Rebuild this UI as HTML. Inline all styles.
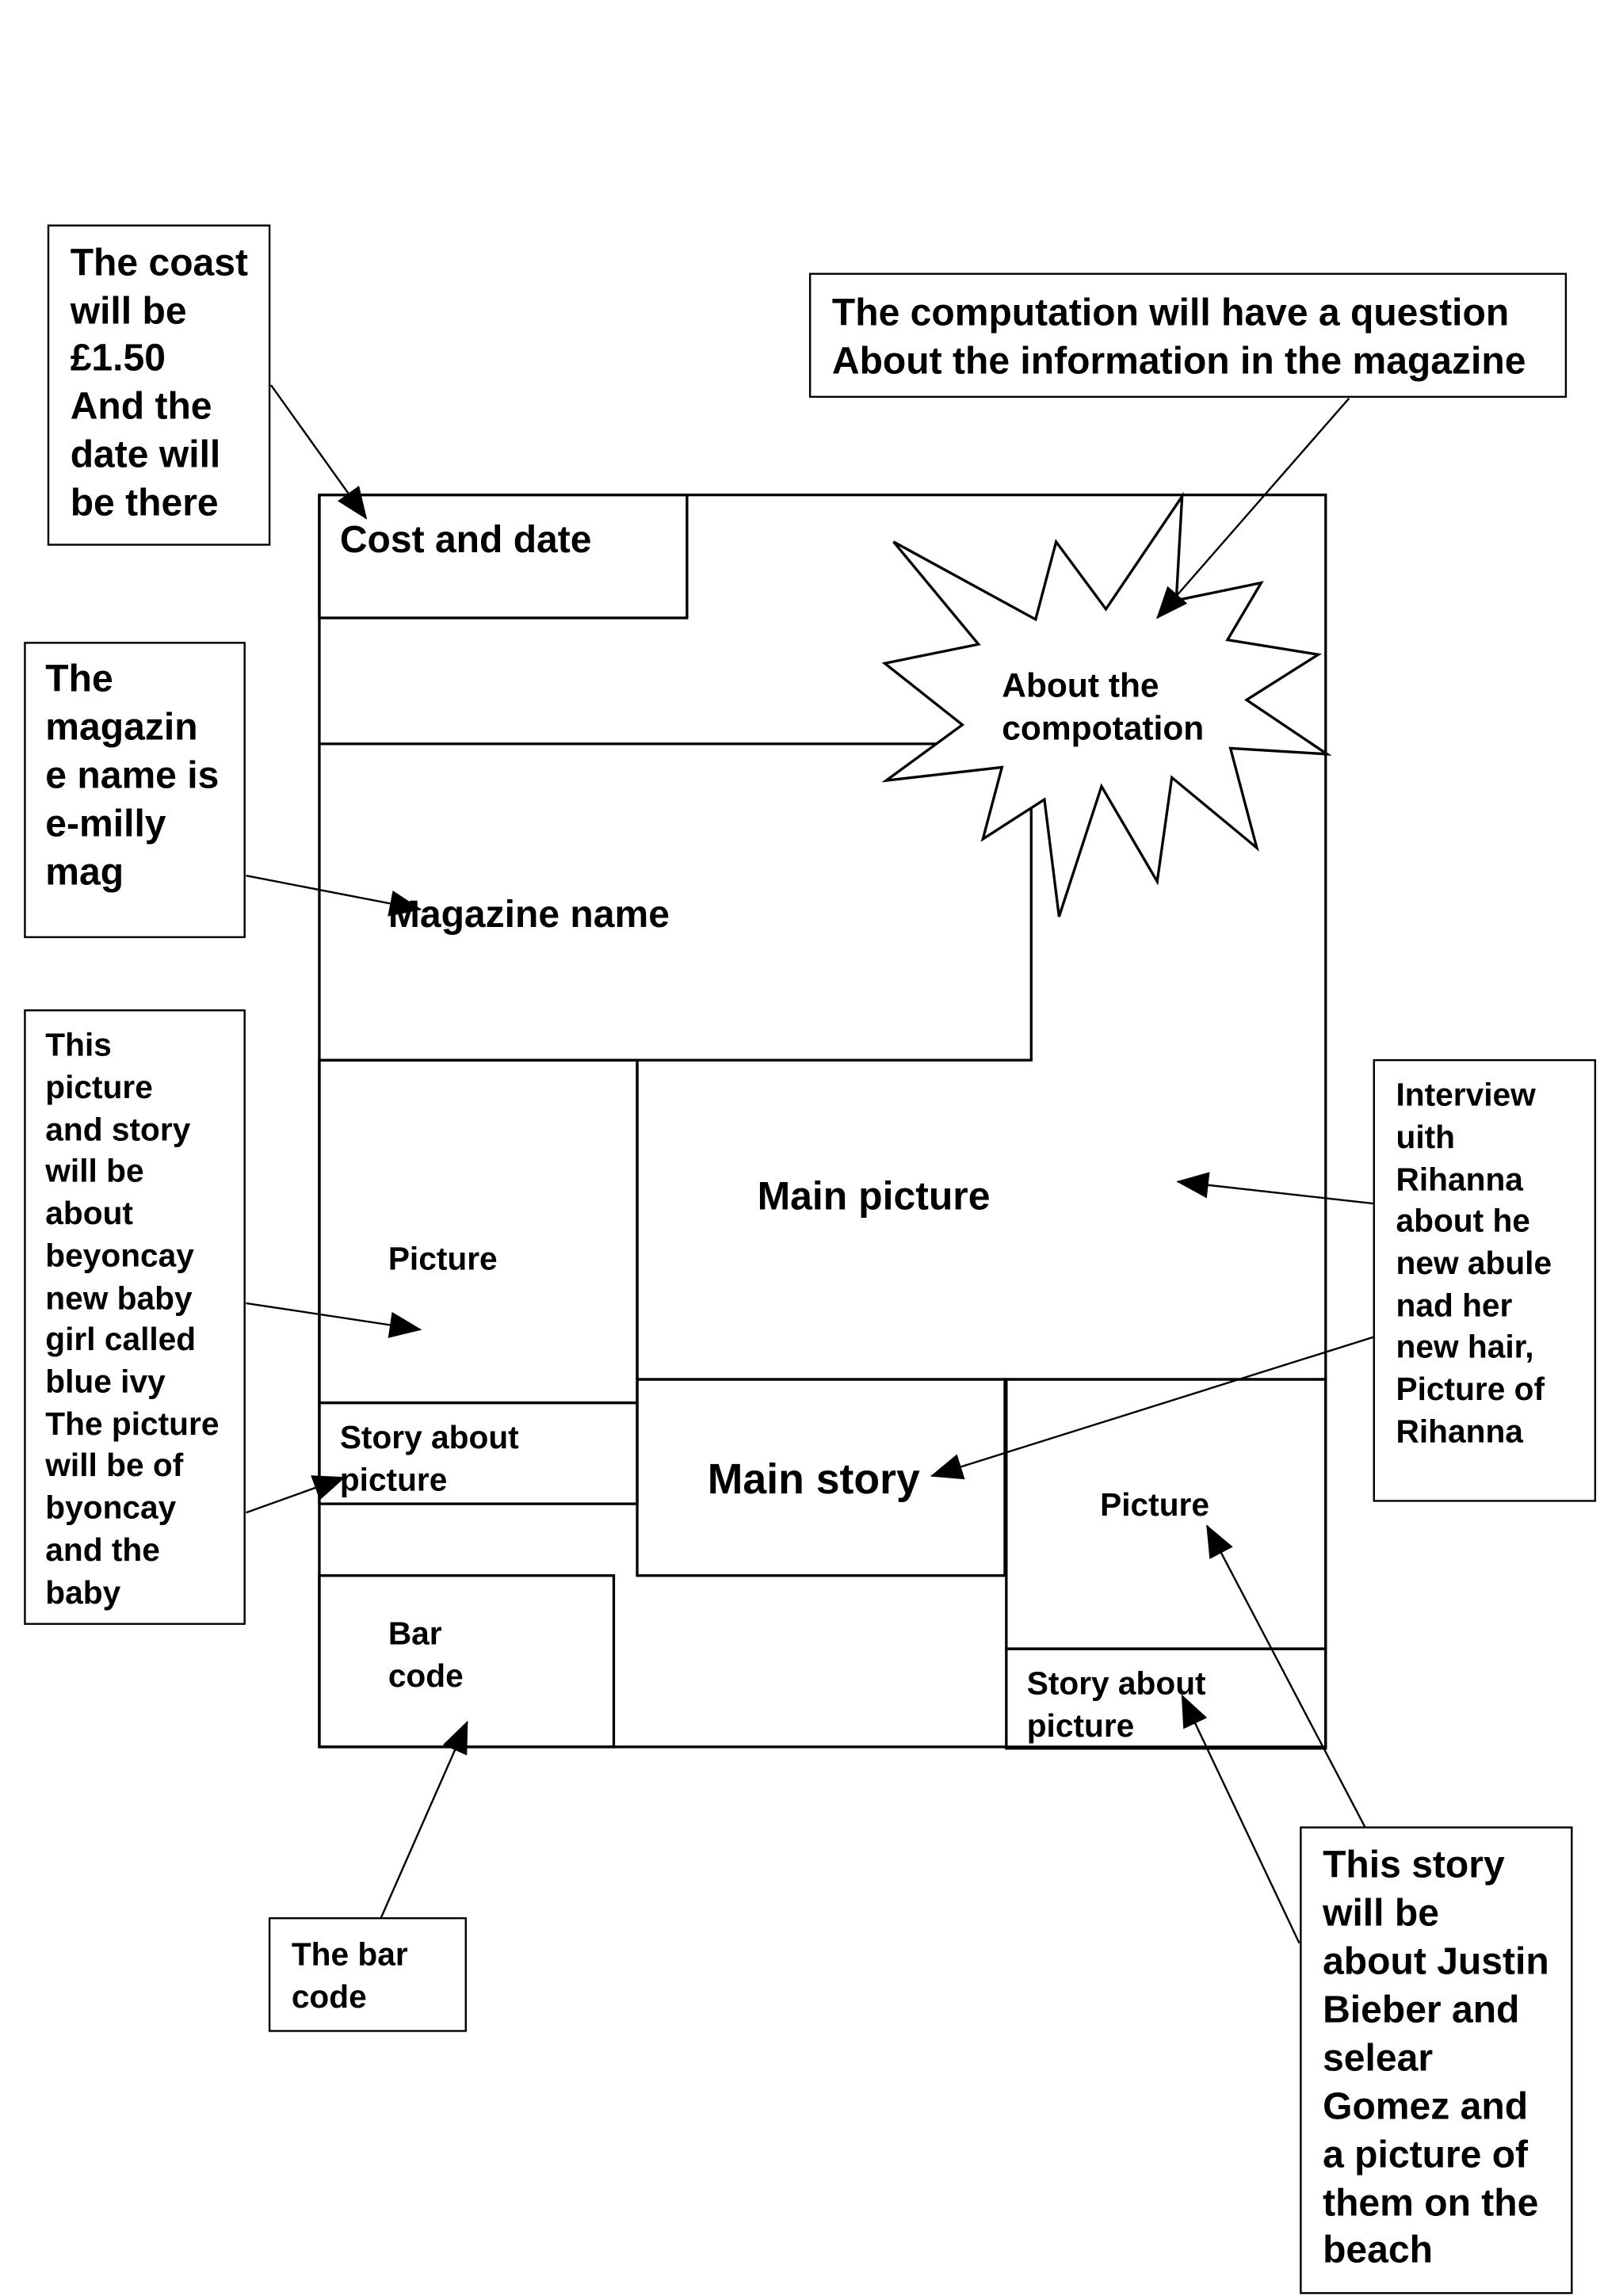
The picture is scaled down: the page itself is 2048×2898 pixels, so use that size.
<!DOCTYPE html>
<html><head><meta charset="utf-8"><style>
html,body{margin:0;padding:0;background:#fff;}
svg{display:block;}
text{font-family:"Liberation Sans",sans-serif;fill:#000;font-weight:bold;}
</style></head><body>
<svg width="2048" height="2898" viewBox="0 0 1108 1568" preserveAspectRatio="none" xmlns="http://www.w3.org/2000/svg">
<defs>
<marker id="b" markerWidth="22" markerHeight="18" refX="21" refY="9" orient="auto" markerUnits="userSpaceOnUse" viewBox="0 0 22 18"><path d="M0,0 L22,9 L0,18 z" fill="#000"/></marker></defs>
<g fill="none" stroke="#000" stroke-width="1.3">
<rect x="33" y="154" width="151" height="218"/>
<rect x="553" y="187" width="516" height="84"/>
<rect x="17" y="439" width="150" height="201"/>
<rect x="17" y="690" width="150" height="419"/>
<rect x="938" y="724" width="151" height="301"/>
<rect x="184" y="1310" width="134" height="77"/>
<rect x="888" y="1248" width="185" height="318"/>
</g>
<g fill="none" stroke="#000" stroke-width="1.8">
<rect x="218" y="338" width="687" height="855"/>
<rect x="218" y="338" width="251" height="84"/>
<line x1="218" y1="508" x2="640" y2="508"/>
<polyline points="704,552 704,724 218,724"/>
<rect x="218" y="724" width="217" height="234"/>
<rect x="218" y="958" width="217" height="69"/>
<rect x="435" y="942" width="251" height="134"/>
<line x1="435" y1="726" x2="435" y2="942"/>
<line x1="435" y1="942" x2="905" y2="942"/>
<rect x="687" y="942" width="218" height="184"/>
<rect x="687" y="1126" width="218" height="68"/>
<rect x="218" y="1076" width="201" height="117"/>
<polygon fill="#fff" points="610,370 707,423 721,370 755,416 807,339 803,410 861,398 838,437 900,447 851,478 906,515 840,511 858,579 800,531 790,602 752,537 723,626 713,546 671,573 684,524 605,533 657,495 604,453 668,440"/>
</g>
<g stroke="#000" stroke-width="1.3" fill="none">
<line x1="185" y1="263" x2="250" y2="354" marker-end="url(#b)"/>
<line x1="921" y1="272" x2="790" y2="422" marker-end="url(#b)"/>
<line x1="168" y1="598" x2="287" y2="621" marker-end="url(#b)"/>
<line x1="168" y1="890" x2="287" y2="908" marker-end="url(#b)"/>
<line x1="168" y1="1033" x2="235" y2="1009" marker-end="url(#b)"/>
<line x1="938" y1="822" x2="804" y2="807" marker-end="url(#b)"/>
<line x1="938" y1="913" x2="636" y2="1008" marker-end="url(#b)"/>
<line x1="932" y1="1248" x2="824" y2="1042" marker-end="url(#b)"/>
<line x1="887" y1="1327" x2="807" y2="1158" marker-end="url(#b)"/>
<line x1="260" y1="1310" x2="319" y2="1176" marker-end="url(#b)"/>
</g>
<g font-size="26">
<text x="48" y="188">The coast</text><text x="48" y="221">will be</text><text x="48" y="253">£1.50</text><text x="48" y="286"> And the</text><text x="48" y="319">date will</text><text x="48" y="352">be there</text>
<text x="568" y="222">The computation will have a question</text><text x="568" y="255">About the information in the magazine</text>
<text x="232" y="377">Cost and date</text>
<text x="31" y="472">The</text><text x="31" y="505">magazin</text><text x="31" y="538">e name is</text><text x="31" y="571">e-milly</text><text x="31" y="604">mag</text>
<text x="265" y="633">Magazine name</text>
<text x="517" y="826" font-size="27">Main picture</text>
<text x="483" y="1020" font-size="29">Main story</text>
<text x="903" y="1282">This story</text><text x="903" y="1315">will be</text><text x="903" y="1348">about Justin</text><text x="903" y="1381">Bieber and</text><text x="903" y="1414">selear</text><text x="903" y="1447">Gomez and</text><text x="903" y="1480">a picture of</text><text x="903" y="1513">them on the</text><text x="903" y="1545">beach</text>
</g>
<g font-size="22">
<text x="684" y="476" font-size="23">About the</text><text x="684" y="505" font-size="23">compotation</text>
<text x="265" y="867">Picture</text>
<text x="232" y="989">Story about</text><text x="232" y="1018">picture</text>
<text x="751" y="1035">Picture</text>
<text x="701" y="1157">Story about</text><text x="701" y="1186">picture</text>
<text x="265" y="1123">Bar</text><text x="265" y="1152">code</text>
<text x="199" y="1342">The bar</text><text x="199" y="1371">code</text>
<text x="31" y="721">This</text><text x="31" y="750">picture</text><text x="31" y="779">and story</text><text x="31" y="807">will be</text><text x="31" y="836">about</text><text x="31" y="865">beyoncay</text><text x="31" y="894">new baby</text><text x="31" y="922">girl called</text><text x="31" y="951">blue ivy</text><text x="31" y="980">The picture</text><text x="31" y="1008">will be of</text><text x="31" y="1037">byoncay</text><text x="31" y="1066">and the</text><text x="31" y="1095">baby</text>
<text x="953" y="755">Interview</text><text x="953" y="784">uith</text><text x="953" y="813">Rihanna</text><text x="953" y="841">about he</text><text x="953" y="870">new abule</text><text x="953" y="899">nad her</text><text x="953" y="927">new hair,</text><text x="953" y="956">Picture of</text><text x="953" y="985">Rihanna</text>
</g>
</svg>
</body></html>
